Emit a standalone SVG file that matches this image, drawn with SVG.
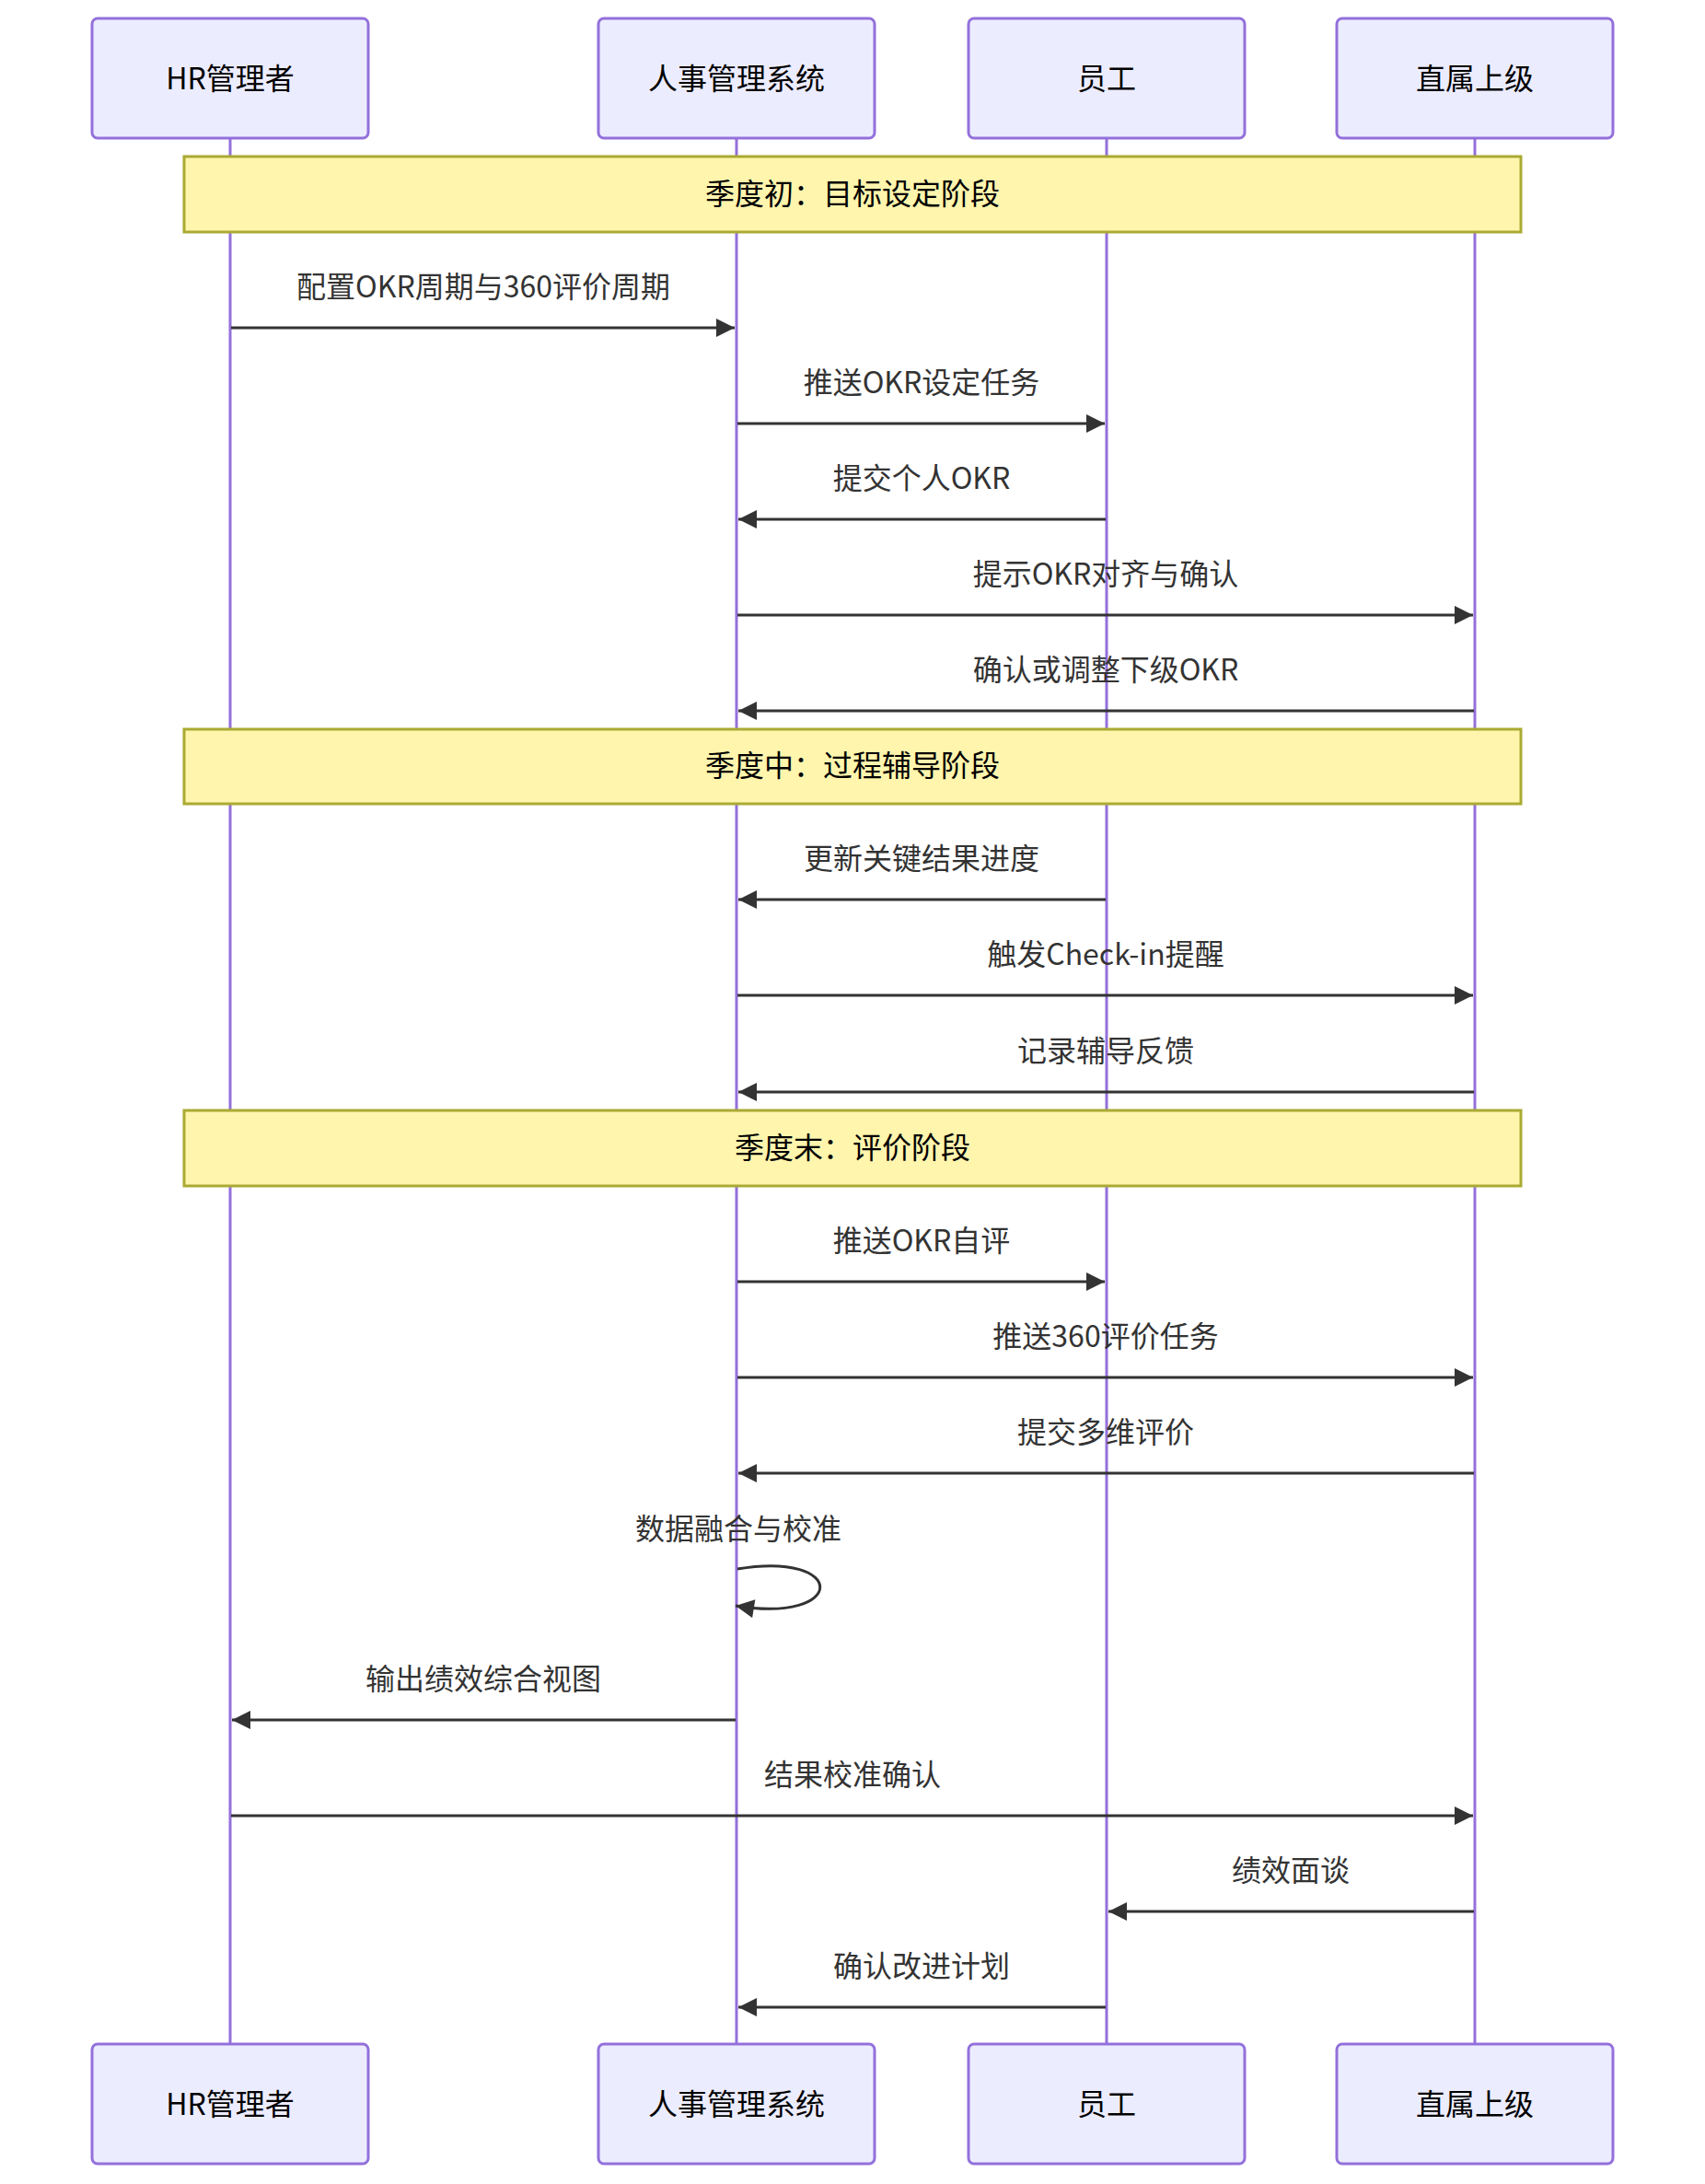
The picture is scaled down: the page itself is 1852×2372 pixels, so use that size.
<svg xmlns="http://www.w3.org/2000/svg" width="1852" height="2372" viewBox="0 0 1852 2372">
<defs>
<style>
text{font-family:"Noto Sans CJK SC","Noto Sans",sans-serif;font-size:32px;text-anchor:middle}
.actor rect{fill:#ECECFF;stroke:#9370DB;stroke-width:3}
.actor text{fill:#000}
.life{stroke:#9370DB;stroke-width:3}
.note rect{fill:#FFF5AD;stroke:#AAAA33;stroke-width:3}
.note text{fill:#000}
.msg line,.msg path{stroke:#333;stroke-width:3;fill:none}
.msg text{fill:#333}
</style>
<marker id="ah" markerUnits="userSpaceOnUse" viewBox="0 0 10 10" markerWidth="22" markerHeight="20" refX="10" refY="5" orient="auto">
<path d="M0,0 L10,5 L0,10 z" fill="#333"/>
</marker>
</defs>
<rect x="0" y="0" width="1852" height="2372" fill="#fff"/>
<g id="lifelines">
<line class="life" x1="250" y1="150" x2="250" y2="2220"/>
<line class="life" x1="800" y1="150" x2="800" y2="2220"/>
<line class="life" x1="1202" y1="150" x2="1202" y2="2220"/>
<line class="life" x1="1602" y1="150" x2="1602" y2="2220"/>
</g>
<g id="actor-hr-top" class="actor"><rect x="100" y="20" width="300" height="130" rx="6"/><text x="250" y="97">HR管理者</text></g>
<g id="actor-sys-top" class="actor"><rect x="650" y="20" width="300" height="130" rx="6"/><text x="800" y="97">人事管理系统</text></g>
<g id="actor-emp-top" class="actor"><rect x="1052" y="20" width="300" height="130" rx="6"/><text x="1202" y="97">员工</text></g>
<g id="actor-mgr-top" class="actor"><rect x="1452" y="20" width="300" height="130" rx="6"/><text x="1602" y="97">直属上级</text></g>
<g id="actor-hr-bottom" class="actor"><rect x="100" y="2220" width="300" height="130" rx="6"/><text x="250" y="2297">HR管理者</text></g>
<g id="actor-sys-bottom" class="actor"><rect x="650" y="2220" width="300" height="130" rx="6"/><text x="800" y="2297">人事管理系统</text></g>
<g id="actor-emp-bottom" class="actor"><rect x="1052" y="2220" width="300" height="130" rx="6"/><text x="1202" y="2297">员工</text></g>
<g id="actor-mgr-bottom" class="actor"><rect x="1452" y="2220" width="300" height="130" rx="6"/><text x="1602" y="2297">直属上级</text></g>
<g id="note1" class="note"><rect x="200" y="170" width="1452" height="82"/><text x="926" y="222">季度初：目标设定阶段</text></g>
<g id="note2" class="note"><rect x="200" y="792" width="1452" height="81"/><text x="926" y="843">季度中：过程辅导阶段</text></g>
<g id="note3" class="note"><rect x="200" y="1206" width="1452" height="82"/><text x="926" y="1258">季度末：评价阶段</text></g>
<g id="connectors" class="msg">
<text x="525" y="323">配置OKR周期与360评价周期</text>
<line x1="251" y1="356" x2="798" y2="356" marker-end="url(#ah)"/>
<text x="1001" y="427">推送OKR设定任务</text>
<line x1="801" y1="460" x2="1200" y2="460" marker-end="url(#ah)"/>
<text x="1001" y="531">提交个人OKR</text>
<line x1="1201" y1="564" x2="802" y2="564" marker-end="url(#ah)"/>
<text x="1201" y="635">提示OKR对齐与确认</text>
<line x1="801" y1="668" x2="1600" y2="668" marker-end="url(#ah)"/>
<text x="1201" y="739">确认或调整下级OKR</text>
<line x1="1601" y1="772" x2="802" y2="772" marker-end="url(#ah)"/>
<text x="1001" y="944">更新关键结果进度</text>
<line x1="1201" y1="977" x2="802" y2="977" marker-end="url(#ah)"/>
<text x="1201" y="1048">触发Check-in提醒</text>
<line x1="801" y1="1081" x2="1600" y2="1081" marker-end="url(#ah)"/>
<text x="1201" y="1153">记录辅导反馈</text>
<line x1="1601" y1="1186" x2="802" y2="1186" marker-end="url(#ah)"/>
<text x="1001" y="1359">推送OKR自评</text>
<line x1="801" y1="1392" x2="1200" y2="1392" marker-end="url(#ah)"/>
<text x="1201" y="1463">推送360评价任务</text>
<line x1="801" y1="1496" x2="1600" y2="1496" marker-end="url(#ah)"/>
<text x="1201" y="1567">提交多维评价</text>
<line x1="1601" y1="1600" x2="802" y2="1600" marker-end="url(#ah)"/>
<text x="802" y="1672">数据融合与校准</text>
<path d="M801,1704 C921,1684 921,1764 799,1744" marker-end="url(#ah)"/>
<text x="525" y="1835">输出绩效综合视图</text>
<line x1="799" y1="1868" x2="252" y2="1868" marker-end="url(#ah)"/>
<text x="926" y="1939">结果校准确认</text>
<line x1="251" y1="1972" x2="1600" y2="1972" marker-end="url(#ah)"/>
<text x="1402" y="2043">绩效面谈</text>
<line x1="1601" y1="2076" x2="1204" y2="2076" marker-end="url(#ah)"/>
<text x="1001" y="2147">确认改进计划</text>
<line x1="1201" y1="2180" x2="802" y2="2180" marker-end="url(#ah)"/>
</g>
</svg>
